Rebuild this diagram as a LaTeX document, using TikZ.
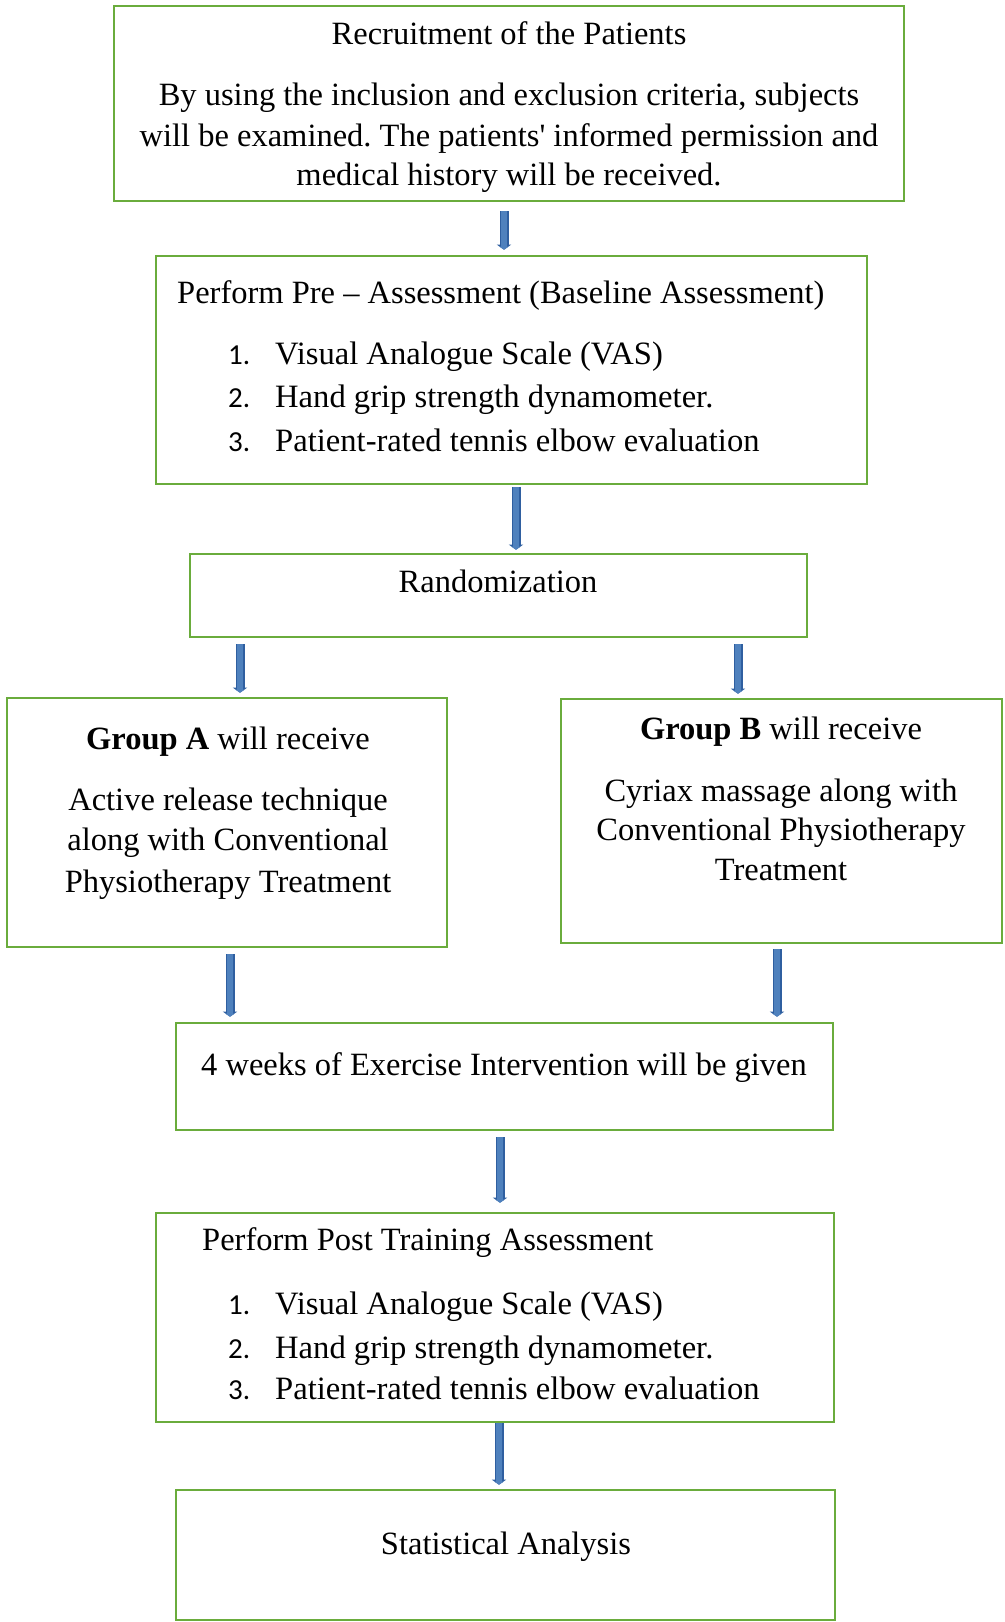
\documentclass[tikz,border=0pt]{standalone}
\usepackage{fontspec}
\setmainfont{Liberation Serif}
\newfontfamily\numfont{Carlito}
\usetikzlibrary{arrows.meta}
\frenchspacing
\definecolor{boxgreen}{RGB}{106,172,60}
\definecolor{arrblue}{RGB}{79,129,189}
\definecolor{arredge}{RGB}{47,95,160}
\tikzset{
  box/.style={draw=boxgreen, line width=2.6pt, rectangle, inner sep=0pt, fill=white},
  txt/.style={inner sep=0pt, anchor=mid, yshift=-7pt, font=\fontsize{32.5}{38}\selectfont},
  ttl/.style={inner sep=0pt, anchor=mid west, yshift=-7pt, font=\fontsize{32.5}{38}\selectfont},
  num/.style={inner sep=0pt, anchor=mid west, yshift=-7pt, font=\numfont\fontsize{29}{35}\selectfont},
  item/.style={inner sep=0pt, anchor=mid west, yshift=-7pt, font=\fontsize{32.6}{38}\selectfont},
  arrout/.style={draw=arredge, line width=9pt, -{Triangle[length=5pt,width=14pt]}},
  arrin/.style={draw=arrblue, line width=6pt, -{Triangle[length=3pt,width=9pt]}}
}
\begin{document}
\begin{tikzpicture}[x=1pt,y=-1pt]
\useasboundingbox (0,0) rectangle (1004,1622);
% boxes
\node[box, minimum width=790, minimum height=195] (b1) at (509,103.5) {};
\node[box, minimum width=711, minimum height=228] (b2) at (511.5,370) {};
\node[box, minimum width=617, minimum height=83] (b3) at (498.5,595.5) {};
\node[box, minimum width=440, minimum height=249] (bA) at (227,822.5) {};
\node[box, minimum width=441, minimum height=244] (bB) at (781.5,821) {};
\node[box, minimum width=657, minimum height=107] (b4) at (504.5,1076.5) {};
\node[box, minimum width=678, minimum height=209] (b5) at (495,1317.5) {};
\node[box, minimum width=659, minimum height=130] (b6) at (505.5,1555) {};
% texts box 1
\node[txt] (t11) at (509,35) {Recruitment of the Patients};
\node[txt] (t12) at (509,96) {By using the inclusion and exclusion criteria, subjects};
\node[txt] (t13) at (509,137) {will be examined. The patients\textquotesingle{} informed permission and};
\node[txt] (t14) at (509,176) {medical history will be received.};
% box 2
\node[ttl] (t21) at (177,294) {Perform Pre -- Assessment (Baseline Assessment)};
\node[num] (n21) at (228,355) {1.};
\node[item] (t22) at (275,355) {Visual Analogue Scale (VAS)};
\node[num] (n22) at (228,398) {2.};
\node[item] (t23) at (275,398) {Hand grip strength dynamometer.};
\node[num] (n23) at (228,442) {3.};
\node[item] (t24) at (275,442) {Patient-rated tennis elbow evaluation};
% box 3
\node[txt] (t31) at (498,583) {Randomization};
% group A
\node[txt] (tA1) at (228,740) {\textbf{Group A} will receive};
\node[txt] (tA2) at (228,801) {Active release technique};
\node[txt] (tA3) at (228,841) {along with Conventional};
\node[txt] (tA4) at (228,883) {Physiotherapy Treatment};
% group B
\node[txt] (tB1) at (781,730) {\textbf{Group B} will receive};
\node[txt] (tB2) at (781,792) {Cyriax massage along with};
\node[txt] (tB3) at (781,831) {Conventional Physiotherapy};
\node[txt] (tB4) at (781,871) {Treatment};
% box 4
\node[txt] (t41) at (504,1066) {4 weeks of Exercise Intervention will be given};
% box 5
\node[ttl] (t51) at (202,1241) {Perform Post Training Assessment};
\node[num] (n51) at (228,1305) {1.};
\node[item] (t52) at (275,1305) {Visual Analogue Scale (VAS)};
\node[num] (n52) at (228,1349) {2.};
\node[item] (t53) at (275,1349) {Hand grip strength dynamometer.};
\node[num] (n53) at (228,1390) {3.};
\node[item] (t54) at (275,1390) {Patient-rated tennis elbow evaluation};
% box 6
\node[txt] (t61) at (506,1545) {Statistical Analysis};
% arrow x positions
\coordinate (x1) at (504,0);
\coordinate (x2) at (516,0);
\coordinate (x3) at (240,0);
\coordinate (x4) at (738,0);
\coordinate (x5) at (230,0);
\coordinate (x6) at (777,0);
\coordinate (x7) at (500,0);
\coordinate (x8) at (499,0);
% arrows
\foreach \st in {arrout,arrin}{
\draw[\st, shorten <=9pt, shorten >=5pt] (x1 |- b1.south) -- (x1 |- b2.north);
\draw[\st, shorten <=2pt, shorten >=3pt] (x2 |- b2.south) -- (x2 |- b3.north);
\draw[\st, shorten <=6pt, shorten >=4pt] (x3 |- b3.south) -- (x3 |- bA.north);
\draw[\st, shorten <=6pt, shorten >=4pt] (x4 |- b3.south) -- (x4 |- bB.north);
\draw[\st, shorten <=6pt, shorten >=5pt] (x5 |- bA.south) -- (x5 |- b4.north);
\draw[\st, shorten <=5pt, shorten >=5pt] (x6 |- bB.south) -- (x6 |- b4.north);
\draw[\st, shorten <=6pt, shorten >=9pt] (x7 |- b4.south) -- (x7 |- b5.north);
\draw[\st, shorten <=0pt, shorten >=4pt] (x8 |- b5.south) -- (x8 |- b6.north);
}
\end{tikzpicture}
\end{document}
